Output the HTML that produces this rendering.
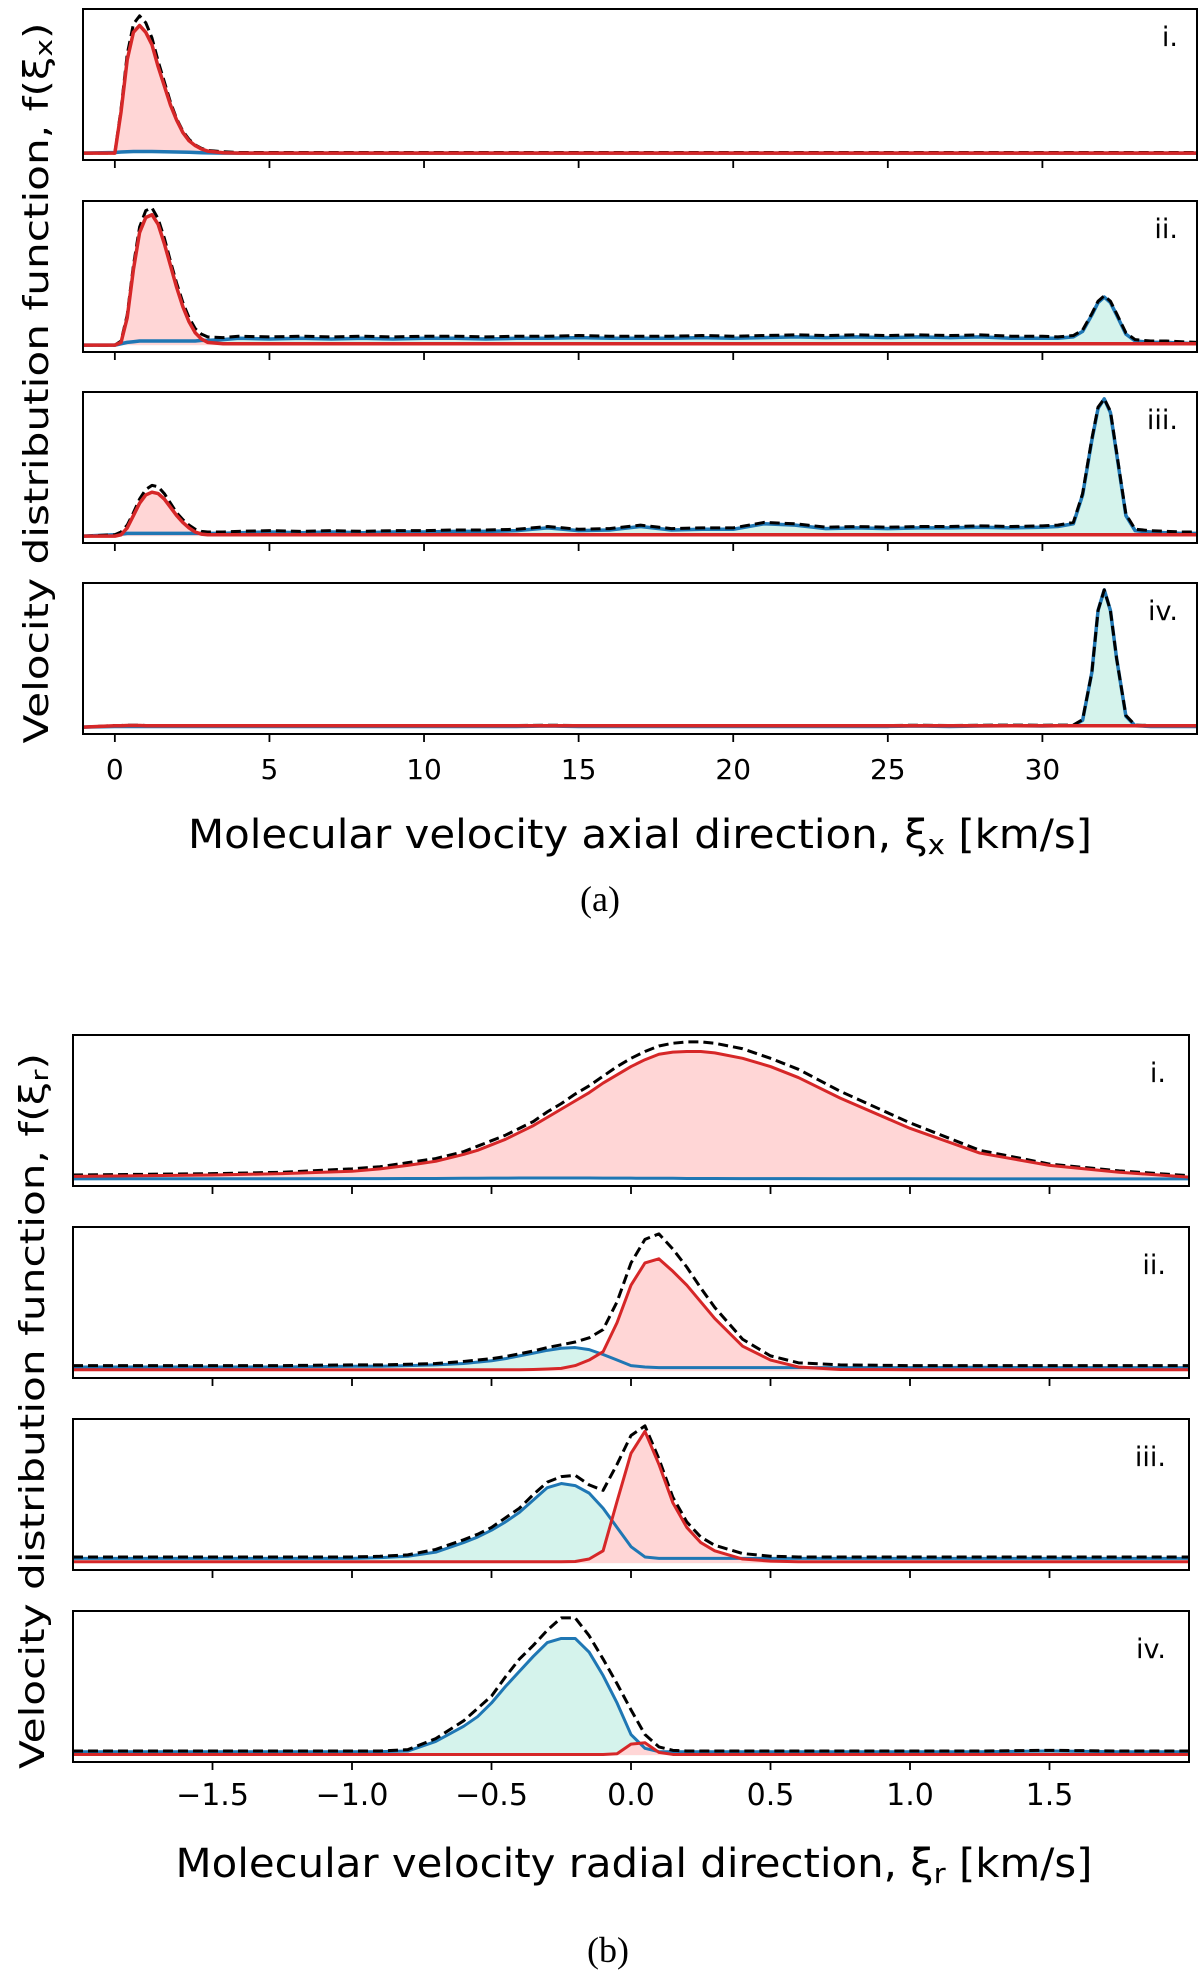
<!DOCTYPE html>
<html><head><meta charset="utf-8">
<style>
html,body{margin:0;padding:0;background:#fff;}
svg{display:block;font-family:"DejaVu Sans","Liberation Sans",sans-serif;}
</style></head>
<body>
<svg id="fig" width="1200" height="1976" viewBox="0 0 1200 1976" xmlns="http://www.w3.org/2000/svg">
<text transform="translate(48,383) rotate(-90)" text-anchor="middle" font-size="34" textLength="721" lengthAdjust="spacingAndGlyphs">Velocity distribution function, f(ξ<tspan font-size="24" dy="4">x</tspan><tspan dy="-4">)</tspan></text>
<text x="640" y="848" text-anchor="middle" font-size="40" textLength="904" lengthAdjust="spacingAndGlyphs">Molecular velocity axial direction, ξ<tspan font-size="28" dy="6">x</tspan><tspan dy="-6"> [km/s]</tspan></text>
<text x="600" y="911" text-anchor="middle" font-size="36" font-family="Liberation Serif, serif">(a)</text>
<text transform="translate(44,1411) rotate(-90)" text-anchor="middle" font-size="34" textLength="716" lengthAdjust="spacingAndGlyphs">Velocity distribution function, f(ξ<tspan font-size="24" dy="4">r</tspan><tspan dy="-4">)</tspan></text>
<text x="634" y="1877" text-anchor="middle" font-size="40" textLength="917" lengthAdjust="spacingAndGlyphs">Molecular velocity radial direction, ξ<tspan font-size="28" dy="6">r</tspan><tspan dy="-6"> [km/s]</tspan></text>
<text x="608" y="1962" text-anchor="middle" font-size="36" font-family="Liberation Serif, serif">(b)</text>
</svg>
<script>
// ---------- Figure (a): axial velocity ----------
const xA = [-1.03,0,0.2,0.4,0.6,0.8,1.0,1.2,1.4,1.6,1.8,2.0,2.2,2.4,2.6,2.8,3.0,3.5,4,5,6,7,8,9,10,11,12,13,14,15,16,17,18,19,20,21,22,23,24,25,26,27,28,29,30,30.5,31,31.3,31.6,31.8,32,32.2,32.4,32.7,33,33.5,34,34.5,35];
const xTicksA = [0,5,10,15,20,25,30];
const xTickLabelsA = ["0","5","10","15","20","25","30"];
const panelLabelsA = ["i.","ii.","iii.","iv."];

const redA1 = [0,0,0.3,0.68,0.88,0.93,0.88,0.79,0.63,0.49,0.35,0.24,0.15,0.09,0.055,0.03,0.015,0.003,0,0,0,0,0,0,0,0,0,0,0,0,0,0,0,0,0,0,0,0,0,0,0,0,0,0,0,0,0,0,0,0,0,0,0,0,0,0,0,0,0];
const blueA1 = [0,0.005,0.008,0.01,0.012,0.012,0.012,0.012,0.011,0.01,0.009,0.008,0.007,0.006,0.005,0.003,0.002,0,0,0,0,0,0,0,0,0,0,0,0,0,0,0,0,0,0,0,0,0,0,0,0,0,0,0,0,0,0,0,0,0,0,0,0,0,0,0,0,0,0];
const blackA1 = [0,0,0.32,0.72,0.94,1.0,0.95,0.84,0.67,0.52,0.37,0.25,0.16,0.1,0.06,0.035,0.02,0.01,0.005,0.005,0.005,0.005,0.005,0.005,0.005,0.005,0.005,0.005,0.005,0.005,0.005,0.005,0.005,0.005,0.005,0.005,0.005,0.005,0.005,0.005,0.005,0.005,0.005,0.005,0.005,0.005,0.005,0.005,0.005,0.005,0.005,0.005,0.005,0.005,0.005,0.005,0.005,0.005,0.005];

const redA2 = [0,0,0.02,0.2,0.55,0.82,0.93,0.95,0.88,0.74,0.58,0.42,0.28,0.17,0.09,0.045,0.02,0.01,0.01,0.01,0.01,0.01,0.01,0.01,0.01,0.01,0.01,0.01,0.01,0.01,0.01,0.01,0.01,0.01,0.01,0.01,0.01,0.01,0.01,0.01,0.01,0.01,0.01,0.01,0.01,0.01,0.01,0.01,0.01,0.01,0.01,0.01,0.01,0.01,0.01,0.01,0.01,0.01,0.01];
const blueA2 = [0,0,0.01,0.02,0.025,0.03,0.03,0.03,0.03,0.03,0.03,0.03,0.03,0.03,0.03,0.035,0.035,0.04,0.05,0.045,0.05,0.045,0.05,0.045,0.05,0.05,0.045,0.05,0.05,0.055,0.05,0.05,0.05,0.055,0.05,0.055,0.06,0.055,0.06,0.055,0.06,0.055,0.06,0.05,0.05,0.05,0.06,0.1,0.22,0.31,0.35,0.31,0.22,0.08,0.03,0.02,0.02,0.015,0.01];
const blackA2 = [0,0,0.03,0.22,0.58,0.86,0.98,1.0,0.92,0.78,0.61,0.45,0.31,0.2,0.12,0.08,0.06,0.055,0.065,0.06,0.065,0.06,0.065,0.06,0.065,0.065,0.06,0.065,0.065,0.07,0.065,0.065,0.065,0.07,0.065,0.07,0.075,0.07,0.075,0.07,0.075,0.07,0.075,0.065,0.065,0.06,0.07,0.11,0.23,0.32,0.36,0.32,0.23,0.09,0.04,0.03,0.03,0.025,0.02];

const redA3 = [0,0,0.01,0.06,0.15,0.24,0.3,0.32,0.31,0.27,0.21,0.15,0.1,0.06,0.03,0.015,0.01,0.01,0.01,0.01,0.01,0.01,0.01,0.01,0.01,0.01,0.01,0.01,0.01,0.01,0.01,0.01,0.01,0.01,0.01,0.01,0.01,0.01,0.01,0.01,0.01,0.01,0.01,0.01,0.01,0.01,0.01,0.01,0.01,0.01,0.01,0.01,0.01,0.01,0.01,0.01,0.01,0.01,0.01];
const blueA3 = [0,0.01,0.015,0.02,0.02,0.02,0.02,0.02,0.02,0.02,0.02,0.02,0.02,0.02,0.02,0.02,0.02,0.02,0.025,0.03,0.025,0.03,0.025,0.03,0.03,0.035,0.035,0.04,0.06,0.04,0.045,0.07,0.045,0.05,0.05,0.09,0.08,0.055,0.06,0.055,0.06,0.06,0.065,0.06,0.065,0.07,0.09,0.3,0.7,0.93,1.0,0.9,0.6,0.15,0.04,0.03,0.025,0.02,0.02];
const blackA3 = [0,0.01,0.03,0.08,0.17,0.27,0.34,0.37,0.36,0.31,0.24,0.17,0.12,0.08,0.05,0.035,0.03,0.03,0.035,0.04,0.035,0.04,0.035,0.04,0.04,0.045,0.045,0.05,0.07,0.05,0.055,0.08,0.055,0.06,0.06,0.1,0.09,0.065,0.07,0.065,0.07,0.07,0.075,0.07,0.075,0.08,0.1,0.31,0.71,0.94,1.0,0.91,0.61,0.16,0.05,0.04,0.035,0.03,0.03];

const redA4 = [0,0.01,0.01,0.012,0.012,0.012,0.01,0.01,0.01,0.01,0.01,0.01,0.01,0.01,0.01,0.01,0.01,0.01,0.01,0.01,0.01,0.01,0.01,0.01,0.01,0.01,0.01,0.01,0.01,0.01,0.01,0.01,0.01,0.01,0.01,0.01,0.01,0.01,0.01,0.01,0.01,0.01,0.01,0.01,0.01,0.01,0.01,0.01,0.01,0.01,0.01,0.01,0.01,0.01,0.01,0.01,0.01,0.01,0.01];
const blueA4 = [0,0.005,0.005,0.005,0.005,0.005,0.005,0.005,0.005,0.005,0.005,0.005,0.005,0.005,0.005,0.005,0.005,0.005,0.005,0.005,0.005,0.005,0.005,0.005,0.005,0.005,0.005,0.005,0.008,0.005,0.005,0.005,0.005,0.005,0.005,0.005,0.005,0.005,0.005,0.005,0.008,0.005,0.008,0.01,0.008,0.01,0.01,0.05,0.4,0.85,1.0,0.85,0.5,0.08,0.01,0.005,0.005,0.005,0.005];
const blackA4 = [0,0.012,0.012,0.014,0.014,0.014,0.012,0.012,0.012,0.012,0.012,0.012,0.012,0.012,0.012,0.012,0.012,0.012,0.012,0.012,0.012,0.012,0.012,0.012,0.012,0.012,0.012,0.012,0.014,0.012,0.012,0.012,0.012,0.012,0.012,0.012,0.012,0.012,0.012,0.012,0.014,0.012,0.014,0.015,0.014,0.015,0.015,0.055,0.4,0.85,1.0,0.85,0.5,0.085,0.015,0.012,0.012,0.012,0.012];

// ---------- Figure (b): radial velocity ----------
const xB = [-2,-1.5,-1.25,-1.0,-0.9,-0.8,-0.7,-0.6,-0.55,-0.5,-0.45,-0.4,-0.35,-0.3,-0.25,-0.2,-0.15,-0.1,-0.05,0,0.05,0.1,0.15,0.2,0.25,0.3,0.4,0.5,0.6,0.75,1.0,1.25,1.5,1.75,2.0];
const xTicksB = [-1.5,-1.0,-0.5,0.0,0.5,1.0,1.5];
const xTickLabelsB = ["\u22121.5","\u22121.0","\u22120.5","0.0","0.5","1.0","1.5"];
const panelLabelsB = ["i.","ii.","iii.","iv."];

const redB1 = [0.02,0.03,0.04,0.057,0.075,0.1,0.13,0.18,0.21,0.25,0.29,0.34,0.39,0.45,0.51,0.57,0.63,0.7,0.76,0.82,0.87,0.91,0.925,0.93,0.93,0.92,0.88,0.82,0.74,0.59,0.37,0.19,0.10,0.05,0.015];
const blueB1 = [0.002,0.003,0.003,0.004,0.004,0.005,0.005,0.006,0.006,0.007,0.007,0.008,0.008,0.008,0.008,0.008,0.008,0.007,0.007,0.007,0.006,0.006,0.006,0.005,0.005,0.005,0.004,0.004,0.004,0.003,0.003,0.002,0.002,0.002,0.002];
const blackB1 = [0.03,0.04,0.05,0.075,0.09,0.12,0.15,0.2,0.24,0.28,0.32,0.37,0.42,0.49,0.55,0.62,0.68,0.75,0.82,0.88,0.93,0.97,0.99,1.0,1.0,0.99,0.95,0.88,0.8,0.64,0.41,0.21,0.11,0.06,0.025];

const redB2 = [0.01,0.01,0.01,0.01,0.01,0.01,0.01,0.01,0.01,0.01,0.01,0.01,0.012,0.015,0.02,0.04,0.08,0.14,0.35,0.62,0.78,0.81,0.72,0.62,0.5,0.38,0.18,0.08,0.03,0.012,0.01,0.01,0.01,0.01,0.01];
const blueB2 = [0.03,0.03,0.03,0.035,0.035,0.04,0.045,0.055,0.065,0.075,0.09,0.11,0.13,0.15,0.165,0.17,0.155,0.12,0.08,0.04,0.03,0.025,0.025,0.025,0.025,0.025,0.025,0.025,0.025,0.025,0.025,0.028,0.025,0.025,0.025];
const blackB2 = [0.04,0.04,0.04,0.045,0.045,0.05,0.055,0.07,0.08,0.09,0.105,0.125,0.145,0.17,0.19,0.21,0.24,0.3,0.5,0.78,0.95,0.99,0.88,0.75,0.6,0.46,0.23,0.11,0.06,0.045,0.04,0.04,0.04,0.04,0.04];

const redB3 = [0.01,0.01,0.01,0.01,0.01,0.01,0.01,0.01,0.01,0.01,0.01,0.01,0.01,0.01,0.01,0.012,0.03,0.09,0.45,0.8,0.96,0.72,0.44,0.26,0.15,0.09,0.03,0.015,0.01,0.01,0.01,0.01,0.01,0.01,0.01];
const blueB3 = [0.035,0.035,0.035,0.035,0.04,0.05,0.08,0.15,0.19,0.24,0.3,0.37,0.46,0.55,0.58,0.565,0.51,0.4,0.26,0.12,0.045,0.035,0.035,0.035,0.035,0.035,0.035,0.035,0.035,0.035,0.035,0.035,0.035,0.035,0.035];
const blackB3 = [0.045,0.045,0.045,0.045,0.05,0.06,0.1,0.17,0.21,0.26,0.33,0.4,0.5,0.59,0.63,0.64,0.57,0.53,0.72,0.93,1.0,0.76,0.48,0.3,0.19,0.13,0.07,0.05,0.045,0.045,0.045,0.045,0.045,0.045,0.045];

const redB4 = [0.005,0.005,0.005,0.005,0.005,0.005,0.005,0.005,0.005,0.005,0.005,0.005,0.005,0.005,0.005,0.005,0.005,0.005,0.01,0.08,0.09,0.02,0.005,0.005,0.005,0.005,0.005,0.005,0.005,0.005,0.005,0.005,0.005,0.005,0.005];
const blueB4 = [0.025,0.025,0.025,0.025,0.025,0.03,0.1,0.21,0.28,0.38,0.5,0.61,0.72,0.82,0.85,0.85,0.75,0.58,0.38,0.15,0.05,0.025,0.025,0.025,0.025,0.025,0.025,0.025,0.025,0.025,0.025,0.025,0.03,0.025,0.025];
const blackB4 = [0.03,0.03,0.03,0.03,0.03,0.04,0.12,0.25,0.34,0.43,0.57,0.7,0.8,0.91,1.0,1.0,0.87,0.7,0.52,0.33,0.15,0.06,0.035,0.03,0.03,0.03,0.03,0.03,0.03,0.03,0.03,0.03,0.035,0.03,0.03];

const NS = "http://www.w3.org/2000/svg";
const svg = document.getElementById('fig');

function mk(tag, attrs, parent) {
  const e = document.createElementNS(NS, tag);
  for (const k in attrs) e.setAttribute(k, attrs[k]);
  (parent || svg).appendChild(e);
  return e;
}

function drawFigure(cfg) {
  cfg.panels.forEach((p, i) => {
    const top = cfg.tops[i], h = cfg.h, bottom = top + h;
    const g = mk('g', {});
    
    
    const M = Math.max(...p.black, ...p.red, ...p.blue);
    const ymin = -0.05 * M, ymax = 1.05 * M;
    const sx = v => cfg.x0 + (v - cfg.xlim[0]) / (cfg.xlim[1] - cfg.xlim[0]) * (cfg.x1 - cfg.x0);
    const sy = v => bottom - (v - ymin) / (ymax - ymin) * h;
    const line = arr => arr.map((v, j) => (j ? 'L' : 'M') + sx(cfg.xs[j]).toFixed(2) + ',' + sy(v).toFixed(2)).join('');
    const area = arr => line(arr) + 'L' + sx(cfg.xs[cfg.xs.length - 1]).toFixed(2) + ',' + sy(0).toFixed(2) + 'L' + sx(cfg.xs[0]).toFixed(2) + ',' + sy(0).toFixed(2) + 'Z';
    const clipId = cfg.prefix + 'clip' + i;
    const cp = mk('clipPath', {id: clipId}, g);
    mk('rect', {x: cfg.x0, y: top, width: cfg.x1 - cfg.x0, height: h}, cp);
    const plot = mk('g', {'clip-path': 'url(#' + clipId + ')'}, g);
    const fb = mk('path', {d: area(p.blue), fill: '#d5f3ec', stroke: 'none'}, plot);
    
    
    const fr = mk('path', {d: area(p.red), fill: '#ffd6d6', stroke: 'none'}, plot);
    
    
    const lb = mk('path', {d: line(p.blue), fill: 'none', stroke: '#1f77b4', 'stroke-width': cfg.lw, 'stroke-linejoin': 'round'}, plot);
    
    
    const lk = mk('path', {d: line(p.black), fill: 'none', stroke: '#000', 'stroke-width': 3, 'stroke-dasharray': '10,5', 'stroke-linejoin': 'round'}, plot);
    
    
    const lr = mk('path', {d: line(p.red), fill: 'none', stroke: '#d62728', 'stroke-width': cfg.lw, 'stroke-linejoin': 'round'}, plot);
    
    
    const fr2 = mk('rect', {x: cfg.x0, y: top, width: cfg.x1 - cfg.x0, height: h, fill: 'none', stroke: '#000', 'stroke-width': 2}, g);
    
    
    cfg.ticks.forEach((t, k) => {
      const tx = sx(t);
      const tk = mk('line', {x1: tx, x2: tx, y1: bottom, y2: bottom + 8, stroke: '#000', 'stroke-width': 1.8}, g);
      
      
      if (i === cfg.panels.length - 1) {
        const tl = mk('text', {x: tx, y: cfg.tickY, 'text-anchor': 'middle', 'font-size': cfg.tickFs}, g);
        tl.textContent = cfg.tickLabels[k];
        
        
      }
    });
    const pl = mk('text', {x: cfg.labelX, y: top + cfg.labelDy, 'text-anchor': 'end', 'font-size': 27}, g);
    pl.textContent = cfg.labels[i];
    
    
  });
}

drawFigure({
  prefix: 'a', xs: xA, xlim: [-1.03, 35], x0: 83, x1: 1197, tops: [9, 201, 392, 583], h: 151, lw: 3.5,
  ticks: xTicksA, tickLabels: xTickLabelsA, tickY: 779, tickFs: 28, labels: panelLabelsA, labelX: 1178, labelDy: 37,
  panels: [
    {red: redA1, blue: blueA1, black: blackA1},
    {red: redA2, blue: blueA2, black: blackA2},
    {red: redA3, blue: blueA3, black: blackA3},
    {red: redA4, blue: blueA4, black: blackA4}
  ]
});
drawFigure({
  prefix: 'b', xs: xB, xlim: [-2, 2], x0: 73, x1: 1189, tops: [1035, 1227, 1419, 1611], h: 151, lw: 3,
  ticks: xTicksB, tickLabels: xTickLabelsB, tickY: 1805, tickFs: 30, labels: panelLabelsB, labelX: 1166, labelDy: 47,
  panels: [
    {red: redB1, blue: blueB1, black: blackB1},
    {red: redB2, blue: blueB2, black: blackB2},
    {red: redB3, blue: blueB3, black: blackB3},
    {red: redB4, blue: blueB4, black: blackB4}
  ]
});
</script>
</body></html>
